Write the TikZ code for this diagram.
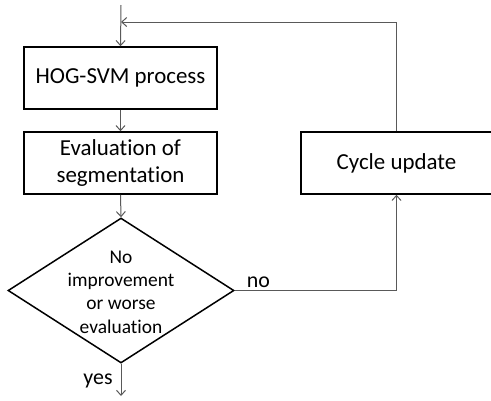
\documentclass[tikz,border=0pt]{standalone}
\usepackage{fontspec}
\setmainfont[Ligatures=NoCommon]{Carlito}
\usetikzlibrary{shapes.geometric,arrows.meta}
\begin{document}
\begin{tikzpicture}[x=1bp,y=-1bp,
  box/.style={draw=black,line width=1.5bp,minimum width=193bp,minimum height=62bp,inner sep=0pt,align=center,font=\fontsize{23}{28}\selectfont},
  decbox/.style={diamond,draw=black,line width=1.5bp,minimum width=226bp,minimum height=145bp,inner sep=0pt},
  dectext/.style={align=center,font=\fontsize{19.5}{23.5}\selectfont},
  lbl/.style={anchor=base,inner sep=0pt,font=\fontsize{22}{26}\selectfont},
  conn/.style={draw=black!65,line width=1bp,-{Straight Barb[length=5bp,width=9bp]}},
  connplain/.style={draw=black!65,line width=1bp}]
\useasboundingbox (0,0) rectangle (491,400);
\node[box] (hog) at (120.5,78) {HOG-SVM process};
\node[box] (eval) at (120.5,163) {Evaluation of\\segmentation};
\node[decbox] (dec) at (121,290.5) {};
\node[dectext] (dectxt) at (121,292) {No\\improvement\\or worse\\evaluation};
\node[box,minimum width=191bp] (cyc) at (396.5,163) {Cycle update};
\coordinate (start) at (121,5);
\coordinate (join) at (121,22);
\coordinate (stop) at (121,396);
\draw[conn] (start) -- (hog.north);
\draw[conn] (hog.south) -- (eval.north);
\draw[conn] (eval.south) -- (dec.north);
\draw[conn] (dec.south) -- (stop);
\draw[conn] (dec.east) -| (cyc.south);
\draw[conn] (cyc.north) |- (join);
\node[lbl] (no) at (258.5,287) {no};
\node[lbl] (yes) at (98,384) {yes};
\end{tikzpicture}
\end{document}
